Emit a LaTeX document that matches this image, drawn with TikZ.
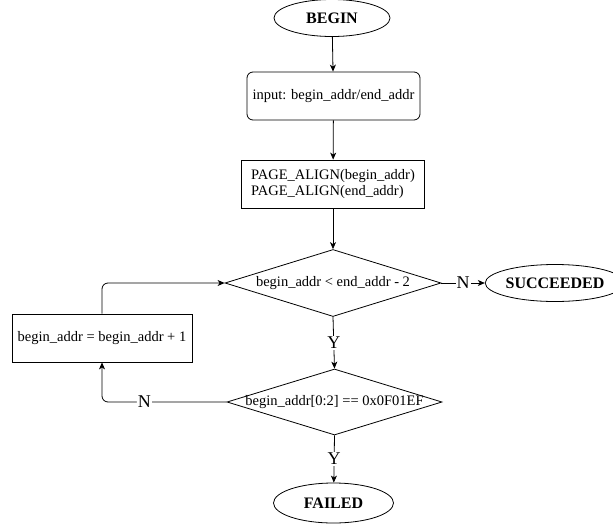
\documentclass[tikz,border=0pt]{standalone}
\usepackage{fontspec}
\setmainfont{Liberation Serif}
\usetikzlibrary{shapes.geometric,arrows.meta}
\begin{document}
\begin{tikzpicture}[x=1pt,y=-1pt,
  every node/.style={inner sep=0pt},
  base/.style={font=\fontsize{14.5}{16.5}\selectfont},
  term/.style={ellipse,draw,line width=0.8pt,font=\fontsize{16}{18}\selectfont\bfseries},
  proc/.style={rectangle,draw,line width=0.8pt,base},
  dec/.style={diamond,draw,line width=0.8pt},
  arr/.style={-{Stealth[length=7pt,width=6pt,inset=2pt]},line width=0.8pt},
  lbl/.style={fill=white,inner sep=1pt,font=\fontsize{18}{20}\selectfont}
]
\useasboundingbox (0,0) rectangle (613,525);
\node[term,minimum width=116pt,minimum height=37pt] (begin) at (332,18) {BEGIN};
\node[proc,rounded corners=6pt,minimum width=173pt,minimum height=48pt] (input) at (333.5,96) {input: begin\_addr/end\_addr};
\node[proc,minimum width=183pt,minimum height=48pt,align=left] (align) at (333,184) {PAGE\_ALIGN(begin\_addr)\\PAGE\_ALIGN(end\_addr)};
\node[dec,minimum width=216pt,minimum height=67pt] (d1) at (333,283) {};
\node[base] (d1t) at (d1.center) {begin\_addr < end\_addr - 2};
\node[term,minimum width=112pt,minimum height=37pt] (succ) at (555,283) {SUCCEEDED};
\node[proc,minimum width=180pt,minimum height=48pt] (inc) at (102,338) {begin\_addr = begin\_addr + 1};
\node[dec,minimum width=215pt,minimum height=66pt] (d2) at (334.5,402) {};
\node[base] (d2t) at (d2.center) {begin\_addr[0:2] == 0x0F01EF};
\node[term,minimum width=120pt,minimum height=40pt] (fail) at (333.5,503) {FAILED};

\draw[arr] (begin) -- (input);
\draw[arr] (input) -- (align);
\draw[arr] (align) -- (d1.north);
\draw[arr] (d1.east) -- node[lbl]{N} (succ);
\draw[arr] (d1.south) -- node[lbl]{Y} (d2.north);
\draw[arr] (d2.south) -- node[lbl]{Y} (fail);
\draw[arr,rounded corners=6pt] (d2.west) -| node[lbl,pos=0.33]{N} (inc.south);
\draw[arr,rounded corners=6pt] (inc.north) |- (d1.west);
\end{tikzpicture}
\end{document}
